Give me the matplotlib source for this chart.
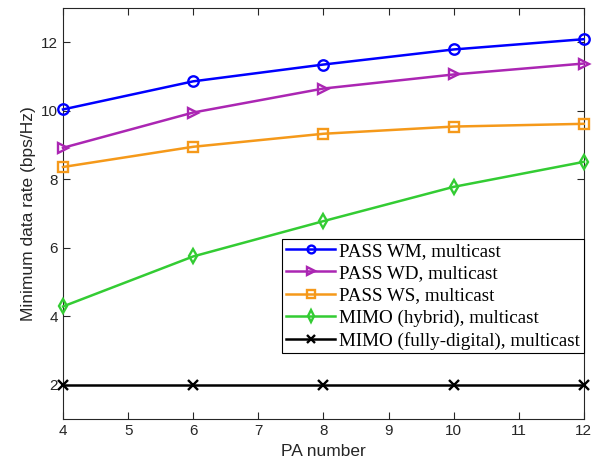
import numpy as np
import matplotlib
matplotlib.use("Agg")
import matplotlib.pyplot as plt

pa = [4, 6, 8, 10, 12]
pass_wm = [10.04, 10.86, 11.35, 11.79, 12.09]
pass_wd = [8.92, 9.95, 10.65, 11.06, 11.38]
pass_ws = [8.36, 8.95, 9.33, 9.54, 9.62]
mimo_hyb = [4.29, 5.75, 6.78, 7.78, 8.51]
mimo_fd = [2.0, 2.0, 2.0, 2.0, 2.0]

labels = ["PASS WM, multicast", "PASS WD, multicast", "PASS WS, multicast",
          "MIMO (hybrid), multicast", "MIMO (fully-digital), multicast"]

plt.rcParams['font.family'] = ['Liberation Sans', 'DejaVu Sans']

fig = plt.figure(figsize=(6, 4.71), dpi=100)
ax = fig.add_axes([0.105, 0.110, 0.868, 0.873])

styles = [
    (pass_wm, (0, 0, 1), 'o'),
    (pass_wd, (0.67, 0.15, 0.7), '>'),
    (pass_ws, (0.96, 0.6, 0.1), 's'),
    (mimo_hyb, (0.2, 0.8, 0.2), 'd'),
    (mimo_fd, (0, 0, 0), 'x'),
]
for (vals, c, m), lab in zip(styles, labels):
    ax.plot(pa, vals, color=c, marker=m, lw=1.8, ms=7.5, mfc='none', mew=1.7,
            label=lab, clip_on=False, zorder=3)

ax.set_xlim(4, 12)
ax.set_ylim(1, 13)
ax.set_xticks(range(4, 13))
ax.set_yticks([2, 4, 6, 8, 10, 12])
ax.tick_params(direction='in', top=True, right=True, labelsize=11,
               colors=(0.15, 0.15, 0.15), length=5)
for s in ax.spines.values():
    s.set_color((0.15, 0.15, 0.15))
    s.set_linewidth(0.8)
ax.set_xlabel("PA number", fontsize=12.5, color=(0.15, 0.15, 0.15), labelpad=4)
ax.set_ylabel("Minimum data rate (bps/Hz)", fontsize=12.5, color=(0.15, 0.15, 0.15))

leg = ax.legend(loc='lower right', bbox_to_anchor=(1.0, 0.16),
                prop={'family': 'Liberation Serif', 'size': 13.7},
                fancybox=False, edgecolor='black', framealpha=1,
                borderpad=0.2, labelspacing=0.26, handlelength=2.6,
                handletextpad=0.2, borderaxespad=0, markerscale=0.75)
leg.get_frame().set_linewidth(0.8)

fig.savefig("out.png", dpi=100)
